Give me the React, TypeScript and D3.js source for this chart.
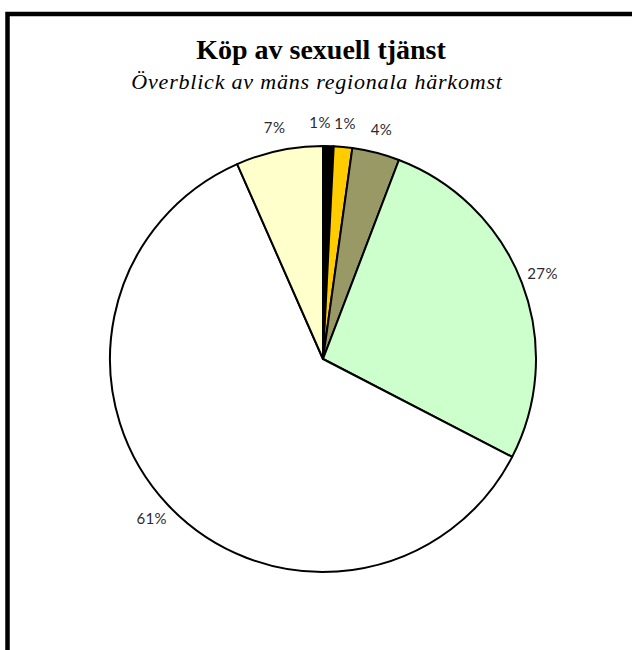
import React from "react";
import * as d3 from "d3";

const categories = ["A", "B", "C", "D", "E", "F"];
const values = [0.8, 1.4, 3.6, 26.8, 60.8, 6.6];
const colors = ["#000000", "#FFCC00", "#999966", "#CCFFCC", "#FFFFFF", "#FFFFCC"];
const title = "Köp av sexuell tjänst";
const subtitle = "Överblick av mäns regionala härkomst";

export default function App() {
  const W = 632, H = 650;
  const cx = 323, cy = 359, r = 213, lr = 235;
  const total = d3.sum(values);
  const pie = d3.pie<number>().sort(null).value((d) => d);
  const arcs = pie(values);
  const arc = d3.arc<d3.PieArcDatum<number>>().innerRadius(0).outerRadius(r);
  const labels = arcs.map((a) => {
    const m = (a.startAngle + a.endAngle) / 2;
    return {
      x: cx + lr * Math.sin(m),
      y: cy - lr * Math.cos(m),
      t: Math.round((a.data / total) * 100) + "%",
    };
  });
  // simple overlap resolution
  for (let i = 0; i < labels.length - 1; i++) {
    const a = labels[i], b = labels[i + 1];
    if (Math.abs(a.y - b.y) < 14 && b.x - a.x < 24 && b.x >= a.x) {
      a.x = b.x - 25;
    }
  }
  return (
    <svg width={W} height={H} style={{ position: "absolute", left: 0, top: 0, background: "#fff" }}>
      <rect x={7.5} y={14} width={700} height={700} fill="#fff" stroke="#000" strokeWidth={4.5} />
      <text x={321} y={59} textAnchor="middle" fontFamily="'Liberation Serif', serif" fontWeight="bold" fontSize={28} fill="#000">
        {title}
      </text>
      <text x={317} y={89} textAnchor="middle" fontFamily="'Liberation Serif', serif" fontStyle="italic" fontSize={22} letterSpacing={0.8} fill="#000">
        {subtitle}
      </text>
      <g transform={`translate(${cx},${cy})`}>
        {arcs.map((a, i) => (
          <path key={categories[i]} d={arc(a) || ""} fill={colors[i]} stroke="#000" strokeWidth={2} strokeLinejoin="round" />
        ))}
      </g>
      {labels.map((l, i) => (
        <text key={i} x={l.x} y={l.y} textAnchor="middle" dominantBaseline="middle" fontFamily="Lato, 'Open Sans', sans-serif" fontSize={15} letterSpacing={0.4} fill="#2a2a33">
          {l.t}
        </text>
      ))}
    </svg>
  );
}
